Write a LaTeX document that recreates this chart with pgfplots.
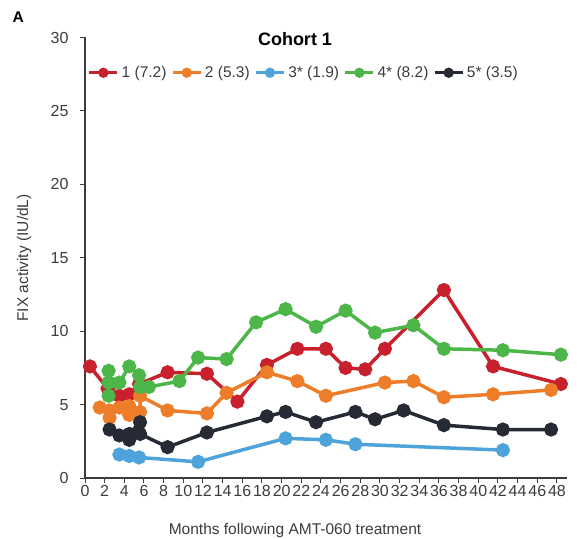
\documentclass[border=0pt]{standalone}
\usepackage{fontspec}
\setmainfont{Liberation Sans}
\usepackage{pgfplots}
\pgfplotsset{compat=1.18}

\definecolor{pRed}{RGB}{200,32,44}
\definecolor{pOrange}{RGB}{237,125,40}
\definecolor{pBlue}{RGB}{77,163,218}
\definecolor{pGreen}{RGB}{77,182,72}
\definecolor{pBlack}{RGB}{37,42,53}
\definecolor{axisgray}{RGB}{60,60,60}

\begin{document}
\begin{tikzpicture}[x=1pt,y=1pt]
\path[use as bounding box] (0,0) rectangle (577,538);
\begin{axis}[
  at={(85pt,60pt)}, anchor=south west,
  scale only axis, width=481.8pt, height=440.5pt,
  xmin=0, xmax=49, ymin=0, ymax=30,
  axis lines=left,
  x axis line style={-, draw=axisgray, line width=1.2pt},
  y axis line style={-, draw=axisgray, line width=1.2pt},
  xtick={0,2,...,48}, ytick={0,5,...,30},
  tick align=outside, major tick length=5pt,
  tick style={draw=axisgray, line width=1pt},
  /pgf/number format/assume math mode=true,
  x tick label style={font=\fontsize{16}{19}\selectfont, text=axisgray, yshift=1pt},
  y tick label style={font=\fontsize{16}{19}\selectfont, text=axisgray, xshift=-8pt},
  every axis plot/.append style={line width=3.5pt, mark=*, mark size=5.3pt, mark options={solid}},
  legend columns=5,
  legend style={at={(0.4545,0.920)}, anchor=center, draw=none, fill=none,
    font=\fontsize{15.5}{18}\selectfont, text=axisgray,
    nodes={inner sep=2.5pt},
    /tikz/column sep=0pt,
    /tikz/every even column/.append style={column sep=2pt}},
  legend image code/.code={\draw[#1, line width=3.5pt, mark size=3.3pt, mark repeat=2, mark phase=2]
    plot coordinates {(0pt,0pt) (14pt,0pt) (28pt,0pt)};},
]
% Participant 1
\addplot[color=pRed] coordinates {
  (0.5,7.6) (2.3,6.1) (3.5,5.6) (4.5,5.7) (5.5,6.4) (8.4,7.2) (12.4,7.1)
  (15.5,5.2) (18.5,7.7) (21.6,8.8) (24.5,8.8) (26.5,7.5) (28.5,7.4)
  (30.5,8.8) (36.5,12.8) (41.5,7.6) (48.4,6.4)};
\addlegendentry{1 (7.2)}
% Participant 2
\addplot[color=pOrange] coordinates {
  (1.5,4.8) (2.5,4.6) (2.5,4.1) (3.5,4.8) (4.5,4.9) (4.5,4.3) (5.6,4.5)
  (5.6,5.6) (8.4,4.6) (12.4,4.4) (14.4,5.8) (18.5,7.2) (21.6,6.6)
  (24.5,5.6) (30.5,6.5) (33.4,6.6) (36.5,5.5) (41.5,5.7) (47.4,6.0)};
\addlegendentry{2 (5.3)}
% Participant 3
\addplot[color=pBlue] coordinates {
  (3.5,1.6) (4.5,1.5) (5.5,1.4) (11.5,1.1) (20.4,2.7) (24.5,2.6)
  (27.5,2.3) (42.5,1.9)};
\addlegendentry{3* (1.9)}
% Participant 4
\addplot[color=pGreen] coordinates {
  (2.4,7.3) (2.4,6.5) (2.4,5.6) (3.5,6.5) (4.5,7.6) (5.5,7.0) (5.6,6.2)
  (6.5,6.2) (9.6,6.6) (11.5,8.2) (14.4,8.1) (17.4,10.6) (20.4,11.5)
  (23.5,10.3) (26.5,11.4) (29.5,9.9) (33.4,10.4) (36.5,8.8) (42.5,8.7)
  (48.4,8.4)};
\addlegendentry{4* (8.2)}
% Participant 5
\addplot[color=pBlack] coordinates {
  (2.5,3.3) (3.5,2.9) (4.5,2.6) (4.5,3.0) (5.6,3.8) (5.6,3.0) (8.4,2.1)
  (12.4,3.1) (18.5,4.2) (20.4,4.5) (23.5,3.8) (27.5,4.5) (29.5,4.0)
  (32.4,4.6) (36.5,3.6) (42.5,3.3) (47.4,3.3)};
\addlegendentry{5* (3.5)}
\end{axis}
\node[anchor=base, font=\bfseries\fontsize{18}{21}\selectfont, text=black] at (295,492) {Cohort 1};
\node[anchor=base west, font=\bfseries\fontsize{15.5}{18}\selectfont, text=black] at (9,515) {A};
\node[rotate=90, font=\fontsize{15.5}{18}\selectfont, text=axisgray] at (24,280) {FIX activity (IU/dL)};
\node[anchor=base, font=\fontsize{15.5}{18}\selectfont, text=axisgray] at (295,4) {Months following AMT-060 treatment};
\end{tikzpicture}
\end{document}
